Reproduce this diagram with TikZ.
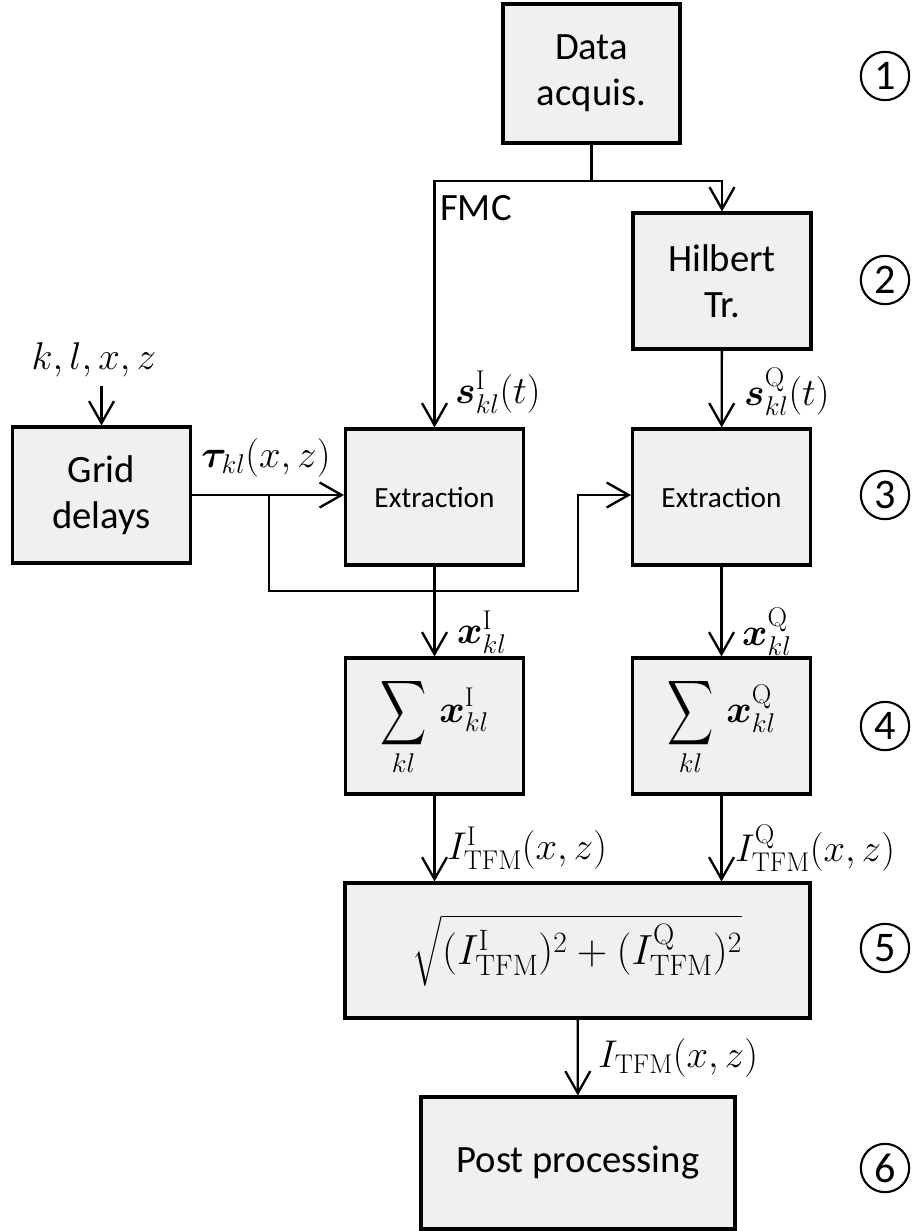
\RequirePackage{fix-cm}
\documentclass[tikz,border=0pt]{standalone}
\usepackage{amsmath,bm}
\usepackage[no-math]{fontspec}
\setmainfont{Carlito}
\usepackage{tikz}
\usetikzlibrary{arrows.meta}
\definecolor{boxgray}{RGB}{240,240,240}
\newcommand{\bigsum}{\mathop{\vcenter{\hbox{\scalebox{1.1}[1.55]{$\displaystyle\sum$}}}}\limits}

\begin{document}
\begin{tikzpicture}[x=0.03cm,y=-0.03cm,
  every node/.style={font=\fontsize{33}{39}\selectfont},
  box/.style={draw,fill=boxgray,line width=2.6pt,minimum width=5.34cm,minimum height=4.08cm,align=center,inner sep=0pt},
  wire/.style={line width=2pt},
  arr/.style={wire,-{Straight Barb[length=0.66cm,width=0.75cm]}},
  lbl/.style={inner sep=0pt,anchor=west},
  stage/.style={draw,circle,line width=1.8pt,minimum size=1.45cm,inner sep=0pt,font=\fontsize{36}{36}\selectfont}]
  \useasboundingbox (0,0) rectangle (912,1231);
  \node[box,minimum width=5.31cm,minimum height=4.17cm] (acq) at (591.5,73.5) {Data\\acquis.};
  \node[box] (hil) at (722,281) {Hilbert\\Tr.};
  \node[box] (grid) at (101.5,495) {Grid\\delays};
  \node[box,font=\fontsize{25}{30}\selectfont] (ext1) at (434.5,497) {Extraction};
  \node[box,font=\fontsize{25}{30}\selectfont] (ext2) at (721.5,497) {Extraction};
  \node[box] (sum1) at (434.5,726) {$\displaystyle\bigsum_{kl}\,\bm{x}^{\mathrm{I}}_{kl}$};
  \node[box] (sum2) at (721.5,726) {$\displaystyle\bigsum_{kl}\,\bm{x}^{\mathrm{Q}}_{kl}$};
  \node[box,minimum width=13.95cm,minimum height=4.05cm,font=\fontsize{36}{40}\selectfont] (comb) at (577.5,950.5)
    {$\sqrt{\vphantom{\big(}(I^{\mathrm{I}}_{\mathrm{TFM}})^2+(I^{\mathrm{Q}}_{\mathrm{TFM}})^2}$};
  \node[box,minimum width=9.42cm,minimum height=3.96cm] (post) at (578,1163) {Post processing};

  \node[stage] (st1) at (885,76) {1};
  \node[stage] (st2) at (885,280) {2};
  \node[stage] (st3) at (885,495) {3};
  \node[stage] (st4) at (885,726) {4};
  \node[stage] (st5) at (885,948) {5};
  \node[stage] (st6) at (885,1168) {6};

  \coordinate (split) at (591.5,181);
  \coordinate (kint) at (101.5,386);
  \coordinate (br) at (269,495);
  \coordinate (brd) at (269,591);
  \coordinate (bru) at (578,591);

  \draw[wire] (acq) -- (split);
  \draw[arr] (split) -| (ext1);
  \draw[arr] (split) -| (hil);
  \draw[arr] (hil) -- (ext2);
  \draw[arr] (kint) -- (grid);
  \draw[arr] (grid) -- (ext1.west |- grid);
  \draw[arr] (br) -- (brd) -- (bru) |- (ext2.west |- grid);
  \draw[arr] (ext1) -- (sum1);
  \draw[arr] (ext2) -- (sum2);
  \draw[arr] (sum1) -- (sum1 |- comb.north);
  \draw[arr] (sum2) -- (sum2 |- comb.north);
  \draw[arr] (comb) -- (post);

  \node[lbl] (fmc) at (440,208) {FMC};
  \node (kin) at (94,360) {$k,l,x,z$};
  \node (tau) at (266,458) {$\bm{\tau}_{kl}(x,z)$};
  \node[lbl] (sI) at (455,392) {$\bm{s}^{\mathrm{I}}_{kl}(t)$};
  \node[lbl] (sQ) at (744,392) {$\bm{s}^{\mathrm{Q}}_{kl}(t)$};
  \node[lbl] (xI) at (457,632) {$\bm{x}^{\mathrm{I}}_{kl}$};
  \node[lbl] (xQ) at (742,632) {$\bm{x}^{\mathrm{Q}}_{kl}$};
  \node[lbl] (iI) at (447,848) {$I^{\mathrm{I}}_{\mathrm{TFM}}(x,z)$};
  \node[lbl] (iQ) at (735,848) {$I^{\mathrm{Q}}_{\mathrm{TFM}}(x,z)$};
  \node[lbl] (iT) at (598,1058) {$I_{\mathrm{TFM}}(x,z)$};
\end{tikzpicture}
\end{document}
